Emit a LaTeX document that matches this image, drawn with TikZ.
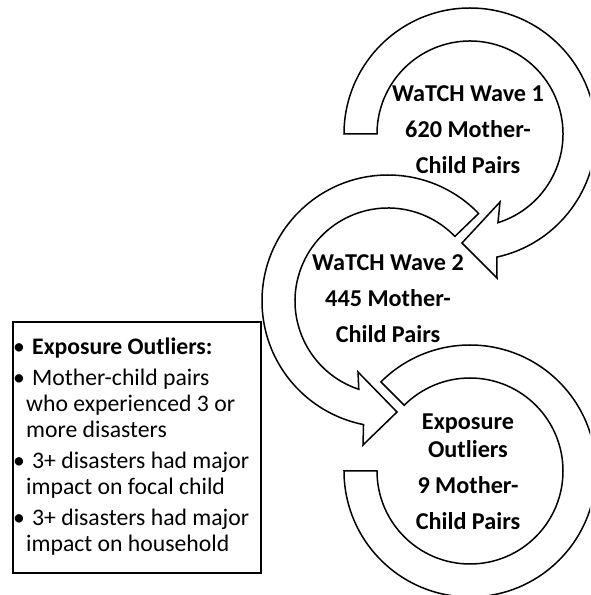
\documentclass[tikz,border=0pt]{standalone}
\usepackage{fontspec}
\setmainfont{Carlito}
\usetikzlibrary{calc}
\begin{document}
\begin{tikzpicture}[x=1pt,y=1pt,
  ring/.style={draw=black, line width=1.5pt, fill=white, line join=miter},
  ringtext/.style={inner sep=0pt, font=\bfseries\fontsize{24.2}{28}\selectfont},
  listbox/.style={draw=black, line width=2pt, fill=white, inner sep=0pt, rectangle},
  listtext/.style={inner sep=0pt, font=\fontsize{23.7}{26}\selectfont}]
\useasboundingbox (0,0) rectangle (590,595);
\clip (0,0) rectangle (590,595);
\def\Ro{126}
\def\Ri{93}
\coordinate (c1) at (470,461);
\coordinate (c2) at (388,294);
\coordinate (c3) at (470,124);
% arrowhead points
\coordinate (a1i) at (500,393);
\coordinate (a1t) at (462,352);
\coordinate (a1o) at (497,317);
\coordinate (a2i) at (358,223);
\coordinate (a2t) at (397,183);
\coordinate (a2o) at (363,150);
% ring 3 (no arrowhead)
\draw[ring] ($(c3)+(135:\Ro)$) arc[start angle=135, end angle=-180, radius=\Ro]
  -- ($(c3)+(180:\Ri)$) arc[start angle=-180, end angle=135, radius=\Ri] -- cycle;
% ring 2
\draw[ring] ($(c2)+(44:\Ro)$) arc[start angle=44, end angle=258.8, radius=\Ro]
  -- (a2o) -- (a2t) -- (a2i)
  -- ($(c2)+(251.7:\Ri)$) arc[start angle=251.7, end angle=44, radius=\Ri] -- cycle;
% ring 1
\draw[ring] ($(c1)+(180:\Ro)$) arc[start angle=180, end angle=-77.7, radius=\Ro]
  -- (a1o) -- (a1t) -- (a1i)
  -- ($(c1)+(-72.5:\Ri)$) arc[start angle=-72.5, end angle=180, radius=\Ri] -- cycle;
% ring texts
\node[ringtext, anchor=base] (t1) at (468,493.3) {\parbox[t]{180pt}{\centering WaTCH Wave 1\\[8pt]620 Mother-\\[8pt]Child Pairs}};
\node[ringtext, anchor=base] (t2) at (388,324) {\parbox[t]{180pt}{\centering WaTCH Wave 2\\[8pt]445 Mother-\\[8pt]Child Pairs}};
\node[ringtext, anchor=base] (t3) at (468,165) {\parbox[t]{180pt}{\centering Exposure\\Outliers\\[8pt]9 Mother-\\[8pt]Child Pairs}};
% list box
\node[listbox, minimum width=248pt, minimum height=251pt, anchor=south west] (box) at (12,21) {};
\node[listtext, anchor=base west] (list) at (13,240) {\parbox[t]{245pt}{%
\makebox[19pt][l]{•}\textbf{Exposure Outliers:}\\[5pt]
\makebox[19pt][l]{•}Mother-child pairs\\
\hspace*{13pt}who experienced 3 or\\
\hspace*{13pt}more disasters\\[5pt]
\makebox[19pt][l]{•}3+ disasters had major\\
\hspace*{13pt}impact on focal child\\[5pt]
\makebox[19pt][l]{•}3+ disasters had major\\
\hspace*{13pt}impact on household}};
\end{tikzpicture}
\end{document}
